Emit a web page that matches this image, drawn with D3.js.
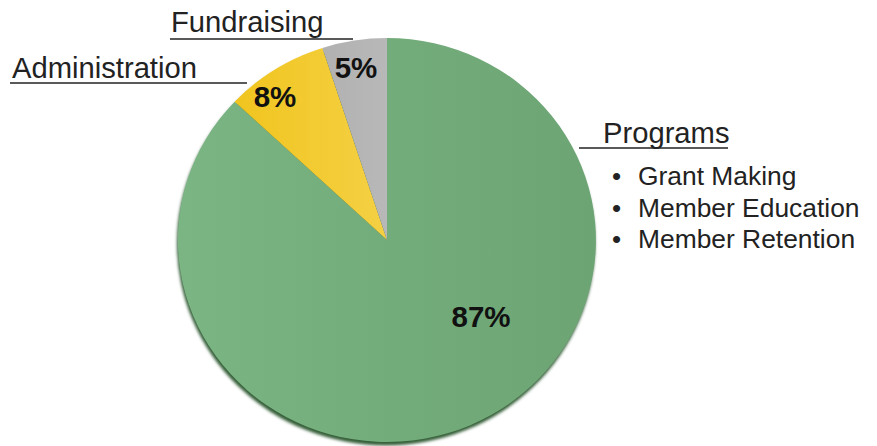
<!DOCTYPE html>
<html>
<head>
<meta charset="utf-8">
<script src="https://cdn.jsdelivr.net/npm/d3@7"></script>
<style>
  html, body { margin: 0; padding: 0; background: #fff; }
  svg { display: block; font-family: "Liberation Sans", Arial, sans-serif; }
</style>
</head>
<body>
<div id="chart"></div>
<script>
// Data
var categories = ["Programs", "Administration", "Fundraising"];
var shares = [87, 8, 5];
var pctLabels = ["87%", "8%", "5%"];
var programItems = ["Grant Making", "Member Education", "Member Retention"];

function init() {
    var w = 877;
    var h = 446;

    // pie geometry (slightly wider than tall, like the original)
    var cx = 387, cy = 240;
    var rx = 209, ry = 202;

    var color = d3.scaleOrdinal()
        .domain(categories)
        .range(["url(#gGreen)", "url(#gYellow)", "url(#gGray)"]);

    var svg = d3.select("#chart")
        .append("svg")
        .attr("width", w)
        .attr("height", h);

    var defs = svg.append("defs");

    function grad(id, c1, c2) {
        var g = defs.append("linearGradient")
            .attr("id", id)
            .attr("x1", "0%").attr("y1", "0%")
            .attr("x2", "100%").attr("y2", "0%");
        g.append("stop").attr("offset", "0%").attr("stop-color", c1);
        g.append("stop").attr("offset", "100%").attr("stop-color", c2);
    }
    grad("gGreen", "#7ab583", "#6da474");
    grad("gYellow", "#f1c51f", "#f4d044");
    grad("gGray", "#b1b1b1", "#b8b8b8");

    defs.append("filter")
        .attr("id", "blur")
        .append("feGaussianBlur")
        .attr("stdDeviation", 1.4);

    var pie = d3.pie().sort(null).value(function(d) { return d; });
    var arcs = pie(shares);

    var arc = d3.arc().innerRadius(0).outerRadius(1);

    var g = svg.append("g")
        .attr("transform", "translate(" + cx + "," + cy + ")");

    // dark rim / shadow along the bottom edge
    g.append("ellipse")
        .attr("cx", -1)
        .attr("cy", 3.5)
        .attr("rx", rx)
        .attr("ry", ry)
        .attr("fill", "#355e39")
        .attr("filter", "url(#blur)");

    g.append("g")
        .attr("transform", "scale(" + rx + "," + ry + ")")
        .selectAll("path")
        .data(arcs)
        .enter()
        .append("path")
        .attr("d", arc)
        .attr("fill", function(d, i) { return color(categories[i]); });

    // percentage labels (hand placed as in the original)
    var labelPos = [[94, 76], [-112, -144], [-31, -173]];
    g.selectAll("text.pct")
        .data(arcs)
        .enter()
        .append("text")
        .attr("class", "pct")
        .attr("x", function(d, i) { return labelPos[i][0]; })
        .attr("y", function(d, i) { return labelPos[i][1]; })
        .attr("dy", "0.36em")
        .attr("text-anchor", "middle")
        .attr("font-weight", "bold")
        .attr("font-size", 29.5)
        .attr("fill", "#111")
        .text(function(d, i) { return pctLabels[i]; });

    // category callouts with underlines
    var callouts = [
        { x: 603, y: 143, lx1: 579, lx2: 728, ly: 148 },
        { x: 12, y: 78, lx1: 10, lx2: 247, ly: 83 },
        { x: 171, y: 32, lx1: 170, lx2: 353, ly: 39 }
    ];

    var cg = svg.append("g");
    categories.forEach(function(name, i) {
        var c = callouts[i];
        cg.append("text")
            .attr("x", c.x)
            .attr("y", c.y)
            .attr("font-size", 29.2)
            .attr("fill", "#222")
            .text(name);
        cg.append("line")
            .attr("x1", c.lx1).attr("x2", c.lx2)
            .attr("y1", c.ly).attr("y2", c.ly)
            .attr("stroke", "#222")
            .attr("stroke-width", 1.5);
    });

    // bullet list under Programs
    var items = cg.selectAll("g.item")
        .data(programItems)
        .enter()
        .append("g")
        .attr("class", "item")
        .attr("transform", function(d, i) { return "translate(0," + (185 + i * 31.5) + ")"; });

    items.append("text")
        .attr("x", 612)
        .attr("font-size", 26)
        .attr("fill", "#222")
        .text("\u2022");

    items.append("text")
        .attr("x", 638)
        .attr("font-size", 26.4)
        .attr("fill", "#222")
        .text(function(d) { return d; });
}

window.onload = init;
</script>
</body>
</html>
